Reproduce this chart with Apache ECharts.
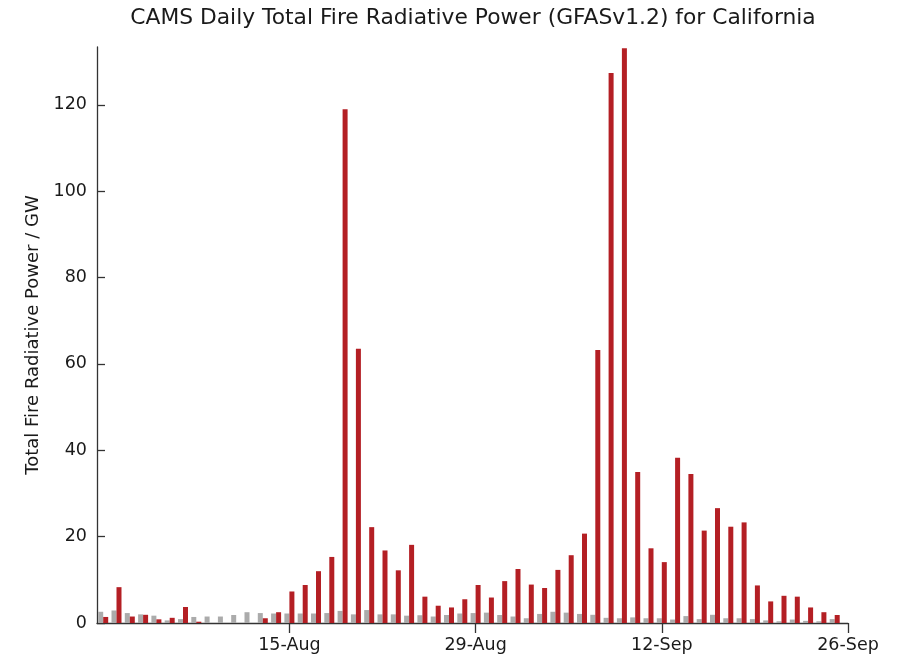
<!DOCTYPE html>
<html>
<head>
<meta charset="utf-8">
<script src="https://cdn.jsdelivr.net/npm/echarts@6/dist/echarts.min.js"></script>
<style>
  html, body { margin: 0; padding: 0; background: #ffffff; }
  #chart { width: 901px; height: 659px; }
</style>
</head>
<body>
<div id="chart"></div>
<script>
// Dates (1-Aug .. 26-Sep)
const dates = [
  '1-Aug','2-Aug','3-Aug','4-Aug','5-Aug','6-Aug','7-Aug','8-Aug','9-Aug','10-Aug',
  '11-Aug','12-Aug','13-Aug','14-Aug','15-Aug','16-Aug','17-Aug','18-Aug','19-Aug','20-Aug',
  '21-Aug','22-Aug','23-Aug','24-Aug','25-Aug','26-Aug','27-Aug','28-Aug','29-Aug','30-Aug',
  '31-Aug','1-Sep','2-Sep','3-Sep','4-Sep','5-Sep','6-Sep','7-Sep','8-Sep','9-Sep',
  '10-Sep','11-Sep','12-Sep','13-Sep','14-Sep','15-Sep','16-Sep','17-Sep','18-Sep','19-Sep',
  '20-Sep','21-Sep','22-Sep','23-Sep','24-Sep','25-Sep','26-Sep'
];

// Grey bars (reference / mean) in GW, 1-Aug .. 25-Sep
const greyValues = [
  2.6, 2.9, 2.3, 2.0, 1.7, 0.6, 0.9, 1.4, 1.5, 1.5,
  1.85, 2.5, 2.3, 2.2, 2.2, 2.2, 2.2, 2.3, 2.8, 2.0,
  3.0, 2.0, 2.0, 1.7, 1.8, 1.5, 1.85, 2.2, 2.3, 2.4,
  1.85, 1.5, 1.1, 2.1, 2.6, 2.4, 2.1, 1.9, 1.2, 1.1,
  1.3, 1.1, 1.1, 0.8, 1.6, 0.9, 1.9, 1.1, 1.1, 0.9,
  0.6, 0.4, 0.8, 0.5, 0.4, 0.9
];

// Red bars (current year) in GW, 1-Aug .. 25-Sep
const redValues = [
  1.4, 8.3, 1.5, 1.9, 0.85, 1.2, 3.7, 0.3, 0, 0,
  0, 0, 1.1, 2.5, 7.3, 8.8, 12.0, 15.3, 119.0, 63.5,
  22.2, 16.8, 12.2, 18.1, 6.1, 4.0, 3.6, 5.5, 8.8, 5.9,
  9.7, 12.5, 8.9, 8.1, 12.3, 15.7, 20.7, 63.2, 127.4, 133.1,
  35.0, 17.3, 14.1, 38.3, 34.5, 21.4, 26.6, 22.3, 23.3, 8.7,
  5.0, 6.3, 6.1, 3.6, 2.5, 1.85
];

// Tick labels shown on the x axis
const xTickLabels = ['15-Aug', '29-Aug', '12-Sep', '26-Sep'];
const yTicks = [0, 20, 40, 60, 80, 100, 120];

const xTickPositions = xTickLabels.map(l => dates.indexOf(l));

const FONT = 'DejaVu Sans';
const chart = echarts.init(document.getElementById('chart'), null, { renderer: 'canvas' });

chart.setOption({
  backgroundColor: '#ffffff',
  animation: false,
  title: {
    text: 'CAMS Daily Total Fire Radiative Power (GFASv1.2) for California',
    left: 473,
    top: 7,
    textAlign: 'center',
    padding: 0,
    textStyle: { fontFamily: FONT, fontSize: 21.8, fontWeight: 'normal', color: '#1a1a1a' }
  },
  grid: { left: 97, right: 53, top: 47, bottom: 36, containLabel: false },
  xAxis: {
    type: 'value',
    min: -0.466,
    max: xTickPositions[xTickPositions.length - 1],
    splitLine: { show: false },
    axisLine: { show: true, onZero: false, lineStyle: { color: '#333333', width: 1.3 } },
    axisTick: {
      show: true, inside: false, length: 10,
      customValues: xTickPositions,
      lineStyle: { color: '#333333', width: 1.3 }
    },
    axisLabel: {
      show: true,
      customValues: xTickPositions,
      margin: 13,
      fontFamily: FONT, fontSize: 17.5, color: '#1a1a1a',
      formatter: v => dates[Math.round(v)]
    }
  },
  yAxis: {
    type: 'value',
    min: 0,
    max: 133.4,
    name: 'Total Fire Radiative Power / GW',
    nameLocation: 'middle',
    nameGap: 55,
    nameTextStyle: { fontFamily: FONT, fontSize: 18, color: '#1a1a1a' },
    splitLine: { show: false },
    axisLine: { show: true, onZero: false, lineStyle: { color: '#333333', width: 1.3 } },
    axisTick: {
      show: true, inside: true, length: 8,
      customValues: yTicks,
      lineStyle: { color: '#333333', width: 1.3 }
    },
    axisLabel: {
      show: true,
      customValues: yTicks,
      margin: 10,
      fontFamily: FONT, fontSize: 17.5, color: '#1a1a1a'
    }
  },
  series: [
    {
      name: 'grey',
      type: 'bar',
      data: greyValues.map((v, i) => [i, v]),
      barWidth: 5,
      barGap: '0%',
      itemStyle: { color: '#ababab' },
      silent: true
    },
    {
      name: 'red',
      type: 'bar',
      data: redValues.map((v, i) => [i, v]),
      barWidth: 5,
      barGap: '0%',
      itemStyle: { color: '#b41f24' },
      silent: true
    }
  ]
});
</script>
</body>
</html>
